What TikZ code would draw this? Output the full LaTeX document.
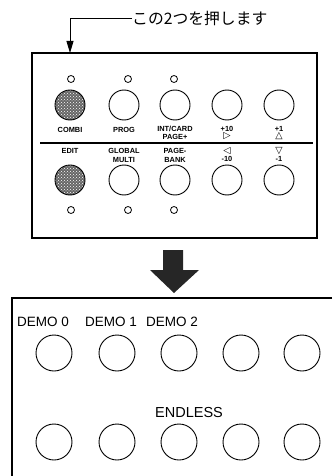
\documentclass[tikz,border=0pt]{standalone}
\usepackage{fontspec}
\setmainfont{Liberation Sans}
\newfontfamily\jp{Noto Sans CJK JP}
\newfontfamily\sym{DejaVu Sans}
\usetikzlibrary{arrows.meta,patterns}
\begin{document}
\begin{tikzpicture}[x=1pt,y=-1pt,
  panel/.style={draw,line width=1.1pt},
  bigbtn/.style={circle,draw,line width=0.9pt,minimum size=30pt,inner sep=0pt},
  hatbtn/.style={bigbtn,preaction={fill=black!60},pattern=crosshatch dots,pattern color=white},
  led/.style={circle,draw,line width=0.8pt,minimum size=7pt,inner sep=0pt},
  lbl/.style={font=\bfseries\fontsize{7.4}{8}\selectfont,inner sep=0pt},
  tri/.style={font=\sym\bfseries\fontsize{9.5}{9.5}\selectfont,inner sep=0pt},
  demobtn/.style={circle,draw,line width=0.9pt,minimum size=36pt,inner sep=0pt},
  demolbl/.style={font=\fontsize{13.5}{15}\selectfont,inner sep=0pt,anchor=base west}]
\useasboundingbox (0,0) rectangle (332,476);
% top note
\node[font=\jp\fontsize{15.8}{16}\selectfont,anchor=west,inner sep=0pt] (note) at (132,18) {この2つを押します};
\coordinate (tgt) at (70,53);
\draw[line width=0.9pt,-{Triangle[length=12pt,width=7pt]}] (note.west) -| (tgt);
% top panel
\draw[panel] (32,53) rectangle (317,238);
% leds top
\foreach \n/\x in {a/71,b/128,c/174}{\node[led] (lt\n) at (\x,79) {};}
% buttons top row
\node[hatbtn] (combi) at (70,105) {};
\node[bigbtn] (prog) at (124,105) {};
\node[bigbtn] (intcard) at (175,105) {};
\node[bigbtn] (p10) at (227,105) {};
\node[bigbtn] (p1) at (279,105) {};
\node[lbl] (lcombi) at (70,130) {COMBI};
\node[lbl] (lprog) at (124,130) {PROG};
\node[lbl] (lint) at (175,129) {INT/CARD};
\node[lbl] (lpage) at (175,136.5) {PAGE+};
\node[lbl] (lp10) at (227,129) {+10};
\node[tri] (lp10s) at (227,136.5) {▷};
\node[lbl] (lp1) at (279,129) {+1};
\node[tri] (lp1s) at (279,136.5) {△};
% divider
\coordinate (dl) at (40,143);
\coordinate (dr) at (313,143);
\draw[line width=2.6pt] (dl) -- (dr);
% bottom labels
\node[lbl] (ledit) at (70,151) {EDIT};
\node[lbl] (lglob) at (124,151) {GLOBAL};
\node[lbl] (lmulti) at (124,159.5) {MULTI};
\node[lbl] (lpgm) at (175,151) {PAGE-};
\node[lbl] (lbank) at (175,159.5) {BANK};
\node[tri] (lm10s) at (227,151) {◁};
\node[lbl] (lm10) at (227,159) {-10};
\node[tri] (lm1s) at (279,151) {▽};
\node[lbl] (lm1) at (279,159) {-1};
% buttons bottom row
\node[hatbtn] (edit) at (70,180) {};
\node[bigbtn] (global) at (124,180) {};
\node[bigbtn] (pagebank) at (175,180) {};
\node[bigbtn] (m10) at (227,180) {};
\node[bigbtn] (m1) at (279,180) {};
\foreach \n/\x in {a/71,b/128,c/174}{\node[led] (lb\n) at (\x,210) {};}
% big arrow
\fill[black!85] (163,250) -- (183,250) -- (183,270) -- (199,270) -- (174,293) -- (150,270) -- (163,270) -- cycle;
% bottom panel
\draw[panel] (332,298) -- (12,298) -- (12,476);
\node[demolbl] (d0) at (17,326) {DEMO 0};
\node[demolbl] (d1) at (85,326) {DEMO 1};
\node[demolbl] (d2) at (146,326) {DEMO 2};
\foreach \i/\x in {1/54,2/117,3/179,4/241,5/302}{\node[demobtn] (u\i) at (\x,353) {};}
\node[demolbl,font=\fontsize{14.5}{15}\selectfont] (endless) at (155,417) {ENDLESS};
\foreach \i/\x in {1/54,2/117,3/179,4/241,5/302}{\node[demobtn] (v\i) at (\x,442) {};}
\end{tikzpicture}
\end{document}
